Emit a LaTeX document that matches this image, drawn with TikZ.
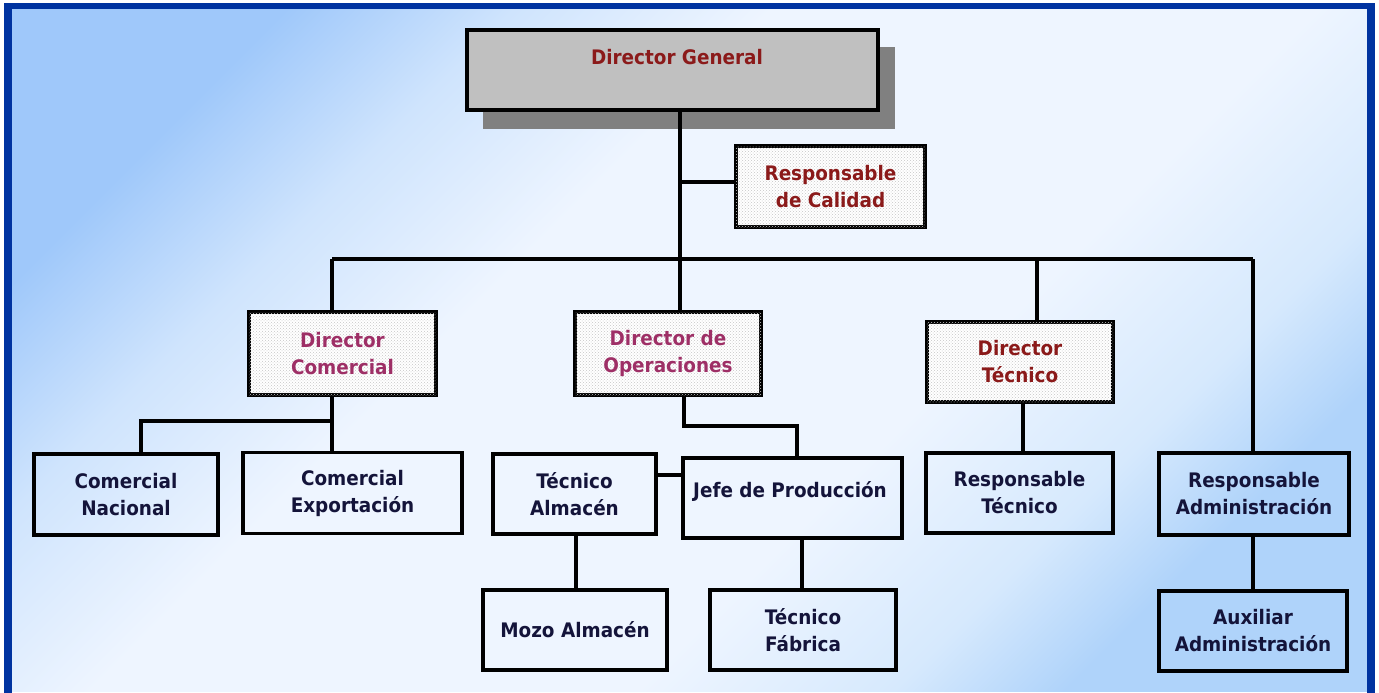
\documentclass[tikz,border=0pt]{standalone}
\usepackage{fontspec}
\setmainfont{DejaVu Sans}[FakeStretch=0.92]
\usetikzlibrary{patterns}
\definecolor{frameblue}{HTML}{0033A0}
\definecolor{bgA}{HTML}{9FC8FA}
\definecolor{bgA2}{HTML}{CFE4FD}
\definecolor{bgM}{HTML}{EEF5FF}
\definecolor{bgB2}{HTML}{D6E9FD}
\definecolor{bgB}{HTML}{AFD3FA}
\definecolor{dgfill}{HTML}{C0C0C0}
\definecolor{dgshadow}{HTML}{808080}
\definecolor{darkred}{HTML}{8B1A1A}
\definecolor{plum}{HTML}{9E2F66}
\definecolor{navytext}{HTML}{14143A}
\pgfdeclareverticalshading{bgshade}{100bp}{color(0bp)=(bgB); color(25bp)=(bgB); color(31bp)=(bgB2); color(40bp)=(bgM); color(59bp)=(bgM); color(68bp)=(bgA2); color(76bp)=(bgA); color(100bp)=(bgA)}
\tikzset{
  x=1pt, y=-1pt,
  boxfont/.style={font=\fontsize{20}{27}\selectfont\bfseries},
  boxbase/.style={draw=black, line width=3.5pt, align=center, inner sep=0pt, boxfont},
  plainbox/.style={boxbase, text=navytext},
  dotbox/.style={boxbase, fill=white, postaction={pattern=crosshatch dots, pattern color=gray!45}},
  conn/.style={draw=black, line width=3.5pt},
}
\begin{document}
\begin{tikzpicture}
\useasboundingbox (0,0) rectangle (1379,693);
% background
\fill[white] (0,0) rectangle (1379,693);
\shade[shading=bgshade, shading angle=45] (12,9) rectangle (1367,691);
\fill[frameblue] (4,3) rectangle (12,693);
\fill[frameblue] (4,3) rectangle (1375,9);
\fill[frameblue] (1367,3) rectangle (1375,693);

% Director General with shadow
\fill[dgshadow] (483,47) rectangle (895,129);
\node[boxbase, fill=dgfill, minimum width=411, minimum height=80] (dg) at (672.5,70) {};
\node[boxfont, text=darkred, inner sep=0pt] (dgt) at (677,57) {Director General};

\node[dotbox, text=darkred, minimum width=189, minimum height=81] (cal) at (830.5,186.5) {Responsable\\de Calidad};

\node[dotbox, text=plum, minimum width=187, minimum height=83] (dc) at (342.5,353.5) {Director\\Comercial};
\node[dotbox, text=plum, minimum width=186, minimum height=83] (dop) at (668,353.5) {Director de\\Operaciones};
\node[dotbox, text=darkred, minimum width=186, minimum height=80] (dt) at (1020,362) {Director\\Técnico};

\node[plainbox, minimum width=184, minimum height=81] (cn) at (126,494.5) {Comercial\\Nacional};
\node[plainbox, minimum width=219, minimum height=81] (ce) at (352.5,493) {Comercial\\Exportación};
\node[plainbox, minimum width=163, minimum height=80] (ta) at (574.5,494) {Técnico\\Almacén};
\node[plainbox, minimum width=219, minimum height=80] (jp) at (792.5,498) {};
\node[boxfont, text=navytext, inner sep=0pt] (jpt) at (790,491) {Jefe de Producción};
\node[plainbox, minimum width=184, minimum height=80] (mz) at (575,630) {Mozo Almacén};
\node[plainbox, minimum width=186, minimum height=80] (tf) at (803,630) {Técnico\\Fábrica};
\node[plainbox, minimum width=187, minimum height=80] (rt) at (1019.5,493) {Responsable\\Técnico};
\node[plainbox, minimum width=190, minimum height=82] (ra) at (1254,494) {Responsable\\Administración};
\node[plainbox, minimum width=188, minimum height=80] (aa) at (1253,631) {Auxiliar\\Administración};

% junction coordinates
\coordinate (jx) at (680,259);
\coordinate (calj) at (680,182);
\coordinate (b1) at (332,259);
\coordinate (b4) at (1037,259);
\coordinate (b5) at (1253,259);
\coordinate (c1) at (332,421);
\coordinate (c0) at (141,421);
\coordinate (o0) at (684,426);
\coordinate (o1) at (797,426);
\coordinate (tj) at (656,475);
\coordinate (mx) at (576,560);
\coordinate (fx) at (802,560);
\coordinate (tx) at (1023,430);
\coordinate (ax) at (1253,560);

% connectors
\draw[conn] (dg.south -| jx) -- (jx) -- (dop.north -| jx);
\draw[conn] (calj) -- (calj -| cal.west);
\draw[conn] (b1) -- (b5);
\draw[conn] (b1) -- (b1 |- dc.north);
\draw[conn] (b4) -- (b4 |- dt.north);
\draw[conn] (b5) -- (b5 |- ra.north);
\draw[conn] (c1 |- dc.south) -- (c1) -- (c0) -- (c0 |- cn.north);
\draw[conn] (c1) -- (c1 |- ce.north);
\draw[conn] (o0 |- dop.south) -- (o0) -- (o1) -- (o1 |- jp.north);
\draw[conn] (tj -| ta.east) -- (tj -| jp.west);
\draw[conn] (mx |- ta.south) -- (mx |- mz.north);
\draw[conn] (fx |- jp.south) -- (fx |- tf.north);
\draw[conn] (tx |- dt.south) -- (tx |- rt.north);
\draw[conn] (ax |- ra.south) -- (ax |- aa.north);
\end{tikzpicture}
\end{document}
